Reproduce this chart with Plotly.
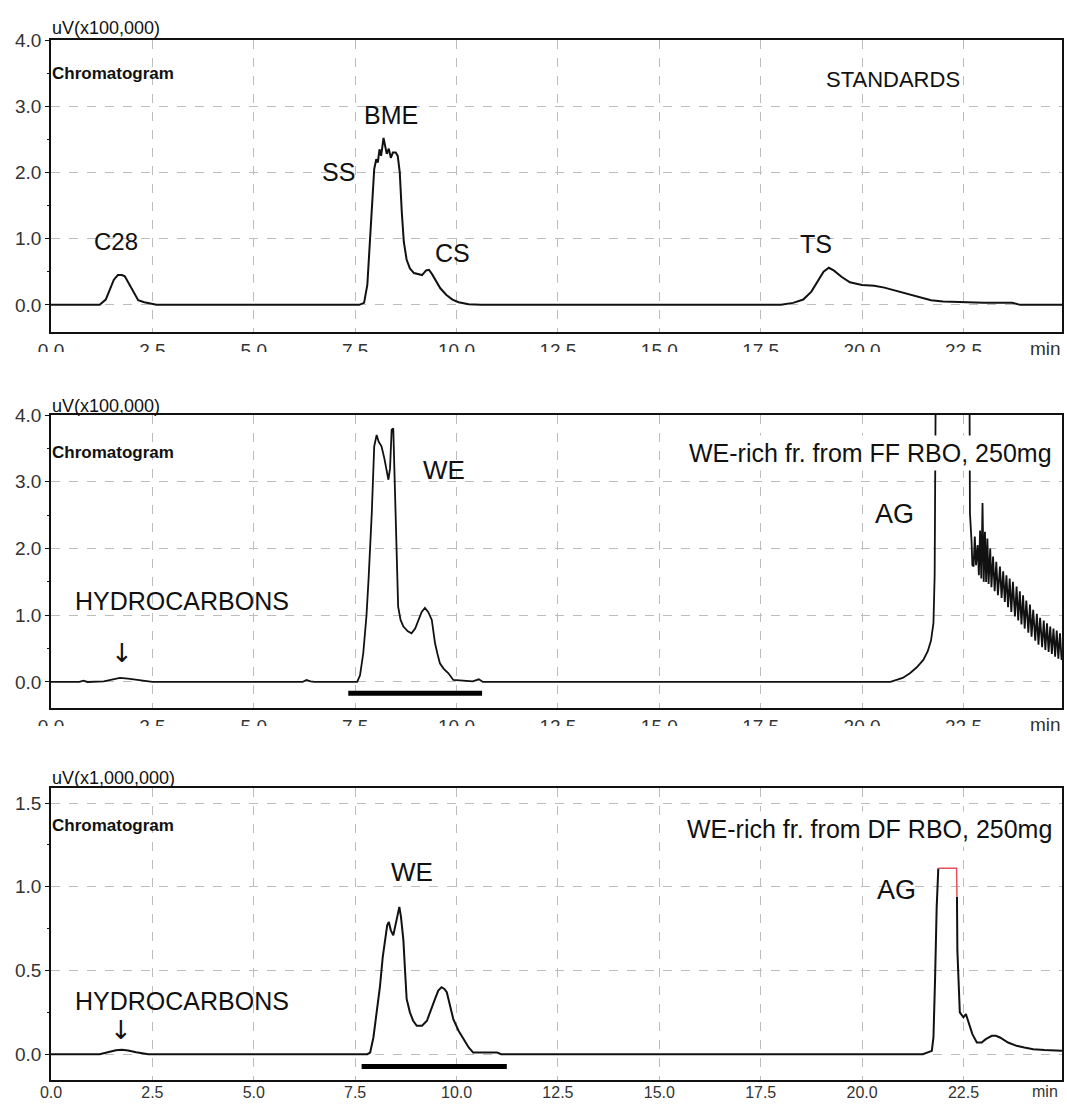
import plotly.graph_objects as go

# ---------------- data ----------------
# Standards run (uV x 100,000)
std_time = [0.0, 1.2, 1.35, 1.45, 1.55, 1.65, 1.75, 1.82, 1.92, 2.03, 2.15, 2.3, 2.5, 2.6,
            7.6, 7.72, 7.8, 7.87, 7.92, 7.97, 8.02, 8.06, 8.1, 8.14, 8.2, 8.24, 8.28, 8.33,
            8.38, 8.43, 8.5, 8.55, 8.6, 8.65, 8.7, 8.77, 8.85, 8.95, 9.05, 9.15, 9.25, 9.32,
            9.4, 9.5, 9.6, 9.75, 9.9, 10.05, 10.3, 10.6,
            18.0, 18.3, 18.55, 18.75, 18.9, 19.05, 19.18, 19.3, 19.5, 19.7, 20.0, 20.3,
            20.55, 20.85, 21.1, 21.35, 21.7, 22.0, 22.5, 23.0, 23.7, 23.9, 24.93]
std_signal = [0.0, 0.0, 0.08, 0.23, 0.38, 0.45, 0.45, 0.43, 0.32, 0.18, 0.07, 0.04, 0.01, 0.0,
              0.0, 0.03, 0.3, 1.0, 1.6, 2.05, 2.2, 2.15, 2.35, 2.25, 2.52, 2.4, 2.28, 2.36,
              2.22, 2.3, 2.3, 2.25, 2.0, 1.4, 0.95, 0.68, 0.55, 0.48, 0.46, 0.45, 0.52, 0.53,
              0.46, 0.35, 0.25, 0.15, 0.08, 0.04, 0.01, 0.0,
              0.0, 0.03, 0.08, 0.2, 0.35, 0.5, 0.56, 0.52, 0.42, 0.34, 0.30, 0.29,
              0.26, 0.21, 0.16, 0.12, 0.07, 0.05, 0.04, 0.03, 0.03, 0.0, 0.0]

# WE-rich fraction from FF RBO (uV x 100,000)
ff_time = [0.0, 0.7, 0.8, 0.9, 1.3, 1.5, 1.7, 1.9, 2.1, 2.3, 2.5, 6.2, 6.3, 6.4, 6.5,
           7.55, 7.62, 7.7, 7.78, 7.83, 7.91, 7.97, 8.03, 8.08, 8.15, 8.22, 8.28, 8.32,
           8.36, 8.40, 8.44, 8.47, 8.50, 8.53, 8.56, 8.62, 8.69, 8.8, 8.89, 8.98, 9.06,
           9.14, 9.22, 9.3, 9.39, 9.47, 9.53, 9.59, 9.68, 9.8, 9.92, 10.1, 10.4, 10.55, 10.65,
           20.7, 21.0, 21.18, 21.35, 21.51, 21.62, 21.7, 21.76, 21.79, 21.81, 21.83,
           22.64, 22.66, 22.7, 22.72,
           22.75, 22.78, 22.81, 22.85, 22.88, 22.91, 22.94, 22.97, 23.0, 23.03, 23.06,
           23.09, 23.12, 23.16, 23.19, 23.23, 23.27, 23.31, 23.35, 23.40, 23.44, 23.48,
           23.52, 23.56, 23.60, 23.64, 23.68, 23.72, 23.77, 23.81, 23.85, 23.89, 23.93,
           23.97, 24.01, 24.05, 24.1, 24.14, 24.18, 24.22, 24.27, 24.31, 24.35, 24.39,
           24.44, 24.48, 24.52, 24.56, 24.6, 24.64, 24.68, 24.72, 24.76, 24.8, 24.84,
           24.88, 24.92]
ff_signal = [0.0, 0.0, 0.02, 0.0, 0.01, 0.04, 0.06, 0.05, 0.03, 0.01, 0.0, 0.0, 0.03, 0.01, 0.0,
             0.0, 0.1, 0.43, 1.0, 1.53, 2.53, 3.53, 3.70, 3.6, 3.53, 3.35, 3.18, 3.03,
             3.2, 3.78, 3.80, 3.05, 2.3, 1.78, 1.13, 0.93, 0.83, 0.76, 0.73, 0.8, 0.93,
             1.05, 1.11, 1.05, 0.93, 0.58, 0.42, 0.28, 0.2, 0.13, 0.03, 0.02, 0.01, 0.04, 0.0,
             0.0, 0.06, 0.13, 0.22, 0.33, 0.46, 0.62, 0.88, 1.6, 3.13, 6.0,
             6.0, 2.53, 2.1, 1.75,
             1.73, 2.18, 1.75, 2.05, 1.6, 2.27, 1.55, 2.68, 1.5, 2.25, 1.5,
             2.15, 1.47, 2.0, 1.42, 1.88, 1.36, 1.8, 1.3, 1.73, 1.26, 1.66,
             1.2, 1.6, 1.12, 1.55, 1.05, 1.5, 0.98, 1.43, 0.92, 1.36, 0.86,
             1.3, 0.8, 1.22, 0.74, 1.16, 0.68, 1.08, 0.62, 1.02, 0.56, 0.96,
             0.52, 0.92, 0.48, 0.88, 0.45, 0.83, 0.42, 0.8, 0.38, 0.77, 0.35,
             0.73, 0.33]

# WE-rich fraction from DF RBO (uV x 1,000,000); the saturated AG top is split out
df_time = [0.0, 1.2, 1.4, 1.6, 1.75, 1.9, 2.1, 2.3, 2.4,
           7.8, 7.87, 7.95, 8.03, 8.11, 8.18, 8.24, 8.29, 8.33, 8.38, 8.44, 8.5, 8.55,
           8.59, 8.63, 8.69, 8.73, 8.77, 8.85, 8.93, 9.02, 9.15, 9.27, 9.37, 9.47, 9.55,
           9.63, 9.7, 9.76, 9.84, 9.92, 10.05, 10.17, 10.3, 10.41, 11.0, 11.1,
           21.5, 21.72, 21.76, 21.8, 21.84, 21.88, None,
           22.34, 22.35, 22.41, 22.5, 22.56, 22.62, 22.72, 22.83, 22.95, 23.05, 23.2,
           23.3, 23.4, 23.6, 23.81, 24.0, 24.22, 24.5, 24.8, 24.93]
df_signal = [0.0, 0.0, 0.012, 0.024, 0.026, 0.022, 0.012, 0.003, 0.0,
             0.0, 0.01, 0.1, 0.25, 0.40, 0.58, 0.68, 0.77, 0.79, 0.74, 0.71, 0.78, 0.85,
             0.88, 0.82, 0.68, 0.5, 0.33, 0.25, 0.2, 0.17, 0.17, 0.20, 0.26, 0.33, 0.38,
             0.40, 0.39, 0.37, 0.29, 0.21, 0.14, 0.09, 0.04, 0.01, 0.01, 0.0,
             0.0, 0.02, 0.1, 0.45, 0.88, 1.11, None,
             0.94, 0.62, 0.25, 0.22, 0.24, 0.19, 0.12, 0.07, 0.07, 0.09, 0.11,
             0.11, 0.10, 0.07, 0.05, 0.04, 0.03, 0.025, 0.02, 0.02]
df_clip_time = [21.88, 22.33, 22.34]
df_clip_signal = [1.11, 1.11, 0.94]

# Collected WE fraction windows
ff_fraction_time = [7.33, 10.63]
ff_fraction_level = [-0.17, -0.17]
df_fraction_time = [7.66, 11.24]
df_fraction_level = [-0.074, -0.074]

x_ticks = [0, 2.5, 5, 7.5, 10, 12.5, 15, 17.5, 20, 22.5]
x_tick_text = ["0.0", "2.5", "5.0", "7.5", "10.0", "12.5", "15.0", "17.5", "20.0", "22.5"]
y_ticks_1e5 = [0, 1, 2, 3, 4]
y_ticks_1e6 = [0, 0.5, 1.0, 1.5]

# ---------------- figure ----------------
W, H = 1067, 1106
FONT = "Liberation Sans, Arial, sans-serif"
INK = "#111111"
GRID = "#bdbdbd"


def py(p):
    return 1 - p / H


def px(p):
    return p / W


fig = go.Figure()

line = dict(color=INK, width=2)
fig.add_trace(go.Scatter(x=std_time, y=std_signal, mode="lines", line=line,
                         xaxis="x", yaxis="y"))
fig.add_trace(go.Scatter(x=ff_time, y=ff_signal, mode="lines", line=dict(color=INK, width=1.8),
                         xaxis="x2", yaxis="y2"))
fig.add_trace(go.Scatter(x=ff_fraction_time, y=ff_fraction_level, mode="lines",
                         line=dict(color="black", width=5), xaxis="x2", yaxis="y2"))
fig.add_trace(go.Scatter(x=df_time, y=df_signal, mode="lines", line=line,
                         connectgaps=False, xaxis="x3", yaxis="y3"))
fig.add_trace(go.Scatter(x=df_clip_time, y=df_clip_signal, mode="lines",
                         line=dict(color="#e8505a", width=1.5), xaxis="x3", yaxis="y3"))
fig.add_trace(go.Scatter(x=df_fraction_time, y=df_fraction_level, mode="lines",
                         line=dict(color="black", width=5), xaxis="x3", yaxis="y3"))

x_dom = [px(51), px(1062)]
panels = [  # (box top px, box bottom px, y range, y ticks, time-label size, standoff)
    (40, 332, [-0.41, 4.0], y_ticks_1e5, 19, 0),
    (415, 708, [-0.39, 4.0], y_ticks_1e5, 19, 0),
    (788, 1080, [-0.154, 1.59], y_ticks_1e6, 16, -3),
]

axis_common = dict(showline=True, linecolor=INK, linewidth=1.8, mirror=True,
                   showgrid=True, gridcolor=GRID, griddash="dash", gridwidth=1,
                   zeroline=False, automargin=False)
tick_font = dict(family=FONT, size=19, color="#333333")

for i, (top, bot, yr, yt, xfs, xso) in enumerate(panels):
    sx = "" if i == 0 else str(i + 1)
    fig.layout["xaxis" + sx] = dict(
        axis_common, domain=x_dom, range=[0, 24.93], anchor="y" + sx,
        tickvals=x_ticks, ticktext=x_tick_text, ticks="", ticklabelstandoff=xso,
        tickfont=dict(tick_font, size=xfs))
    fig.layout["yaxis" + sx] = dict(
        axis_common, domain=[py(bot), py(top)], range=yr, anchor="x" + sx,
        tickvals=yt, tickformat=".1f", ticks="outside", ticklen=4, tickcolor=INK,
        tickfont=tick_font,
        minor=dict(ticks="outside", ticklen=2, tickcolor=INK, dtick=(yt[1] - yt[0]) / 2,
                   showgrid=False))

ann = []


def label(text, x, y, ref, size=25, xanchor="center", bg=None, family=FONT):
    d = dict(text=text, x=x, y=y, xref="x" + ref, yref="y" + ref, showarrow=False,
             xanchor=xanchor, yanchor="middle", font=dict(family=family, size=size, color=INK))
    if bg:
        d.update(bgcolor=bg, borderpad=3)
    ann.append(d)


def corner(text, ypix, size, bold=False):
    ann.append(dict(text=("<b>%s</b>" % text) if bold else text, x=px(50), y=py(ypix),
                    xref="paper", yref="paper", showarrow=False, xanchor="left",
                    yanchor="middle", font=dict(family=FONT, size=size, color=INK)))


# panel 1
corner("uV(x100,000)", 28, 18)
corner("Chromatogram", 74, 17, bold=True)
label("STANDARDS", 20.76, 3.40, "", size=22)
label("BME", 8.38, 2.87, "")
label("SS", 7.08, 2.0, "")
label("CS", 9.91, 0.78, "")
label("C28", 1.60, 0.955, "", size=24)
label("TS", 18.87, 0.92, "")

# panel 2
corner("uV(x100,000)", 406, 18)
corner("Chromatogram", 452, 17, bold=True)
label("WE-rich fr. from FF RBO, 250mg", 24.78, 3.43, "2", size=25, xanchor="right", bg="white")
label("WE", 9.69, 3.18, "2", size=26)
label("AG", 20.81, 2.51, "2", size=27)
label("HYDROCARBONS", 3.24, 1.21, "2", size=25)
label("\u2193", 1.75, 0.44, "2", size=26, family="DejaVu Sans")

# panel 3
corner("uV(x1,000,000)", 778, 18)
corner("Chromatogram", 825, 17, bold=True)
label("WE-rich fr. from DF RBO, 250mg", 24.78, 1.345, "3", size=25, xanchor="right", bg="white")
label("WE", 8.9, 1.09, "3", size=26)
label("AG", 20.86, 0.98, "3", size=27)
label("HYDROCARBONS", 3.24, 0.32, "3", size=25)
label("\u2193", 1.73, 0.145, "3", size=26, family="DejaVu Sans")

# "min" unit beside the last time tick of each panel
for top, bot, _, _, xfs, xso in panels:
    ann.append(dict(text="min", x=px(1045), y=py(bot + 4 + xso), xref="paper", yref="paper",
                    showarrow=False, xanchor="center", yanchor="top",
                    font=dict(family=FONT, size=xfs, color="#333333")))

# the scanned time-axis labels of the upper two panels show only their upper half
shapes = []
for y0, y1 in [(352, 392), (726, 768)]:
    shapes.append(dict(type="rect", xref="paper", yref="paper", x0=0, x1=1,
                       y0=py(y1), y1=py(y0), fillcolor="white", line=dict(width=0),
                       layer="above"))

fig.update_layout(
    width=W, height=H, margin=dict(l=0, r=0, t=0, b=0, autoexpand=False),
    paper_bgcolor="white", plot_bgcolor="white", showlegend=False,
    annotations=ann, shapes=shapes,
)

fig.write_html("out.html")
